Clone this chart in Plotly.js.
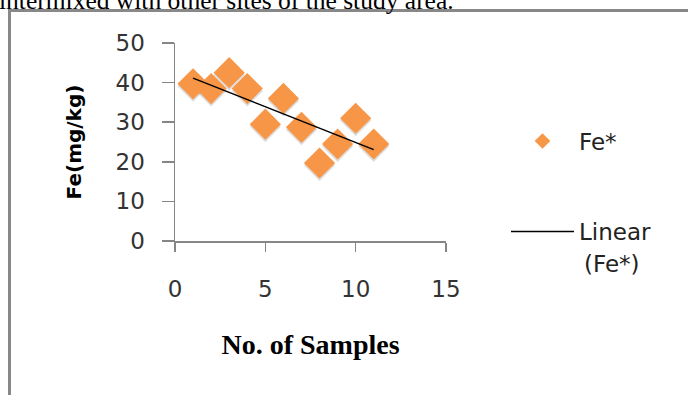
<!DOCTYPE html>
<html>
<head>
<meta charset="utf-8">
<script src="https://cdn.plot.ly/plotly-3.0.1.min.js"></script>
<style>html,body{margin:0;padding:0;background:#fff;}#chart{width:688px;height:395px;}</style>
</head>
<body>
<div id="chart"></div>
<script>
// Data
const samples = [1, 2, 3, 4, 5, 6, 7, 8, 9, 10, 11];
const feValues = [39.7, 38.5, 42.5, 38.5, 29.5, 36.0, 28.7, 19.7, 24.5, 31.0, 24.5];
const xTicks = [0, 5, 10, 15];
const yTicks = [0, 10, 20, 30, 40, 50];

// Least-squares trendline (Linear (Fe*)) computed from the data
const n = samples.length;
const mx = samples.reduce((a, b) => a + b, 0) / n;
const my = feValues.reduce((a, b) => a + b, 0) / n;
let sxy = 0, sxx = 0;
for (let i = 0; i < n; i++) { sxy += (samples[i] - mx) * (feValues[i] - my); sxx += (samples[i] - mx) ** 2; }
const slope = sxy / sxx, intercept = my - slope * mx;
const trendX = [samples[0], samples[n - 1]];
const trendY = trendX.map(x => intercept + slope * x);

// pixel -> paper helpers (plot area 175..446 x, 43..241 y)
const L = 175, R = 446, T = 43, B = 241;
const px = p => (p - L) / (R - L);
const py = p => (B - p) / (B - T);

const traces = [
  { x: samples, y: feValues.map(v => v - 0.6), mode: 'markers', type: 'scatter', showlegend: false, hoverinfo: 'skip',
    marker: { symbol: 'diamond', size: 24, color: 'rgba(120,120,120,0.25)', line: { width: 0 } } },
  { x: samples, y: feValues, mode: 'markers', type: 'scatter', name: 'Fe*', legend: 'legend',
    marker: { symbol: 'diamond', size: 24, color: '#F79646', line: { width: 0 } } },
  { x: trendX, y: trendY, mode: 'lines', type: 'scatter', name: 'Linear', legend: 'legend2',
    line: { color: '#000000', width: 1.5 } }
];

const tickFont = { family: 'DejaVu Sans', size: 23, color: '#333333' };
const legFont = { family: 'DejaVu Sans', size: 23, color: '#222222' };

const layout = {
  width: 688, height: 395,
  margin: { l: L, r: 688 - R, t: T, b: 395 - B, pad: 0 },
  paper_bgcolor: '#ffffff', plot_bgcolor: '#ffffff',
  showlegend: true,
  xaxis: {
    range: [0, 15], tickvals: xTicks, ticktext: xTicks.map(String),
    showgrid: false, zeroline: false, showline: true, linecolor: '#868686', linewidth: 1.5,
    ticks: 'outside', ticklen: 9, tickwidth: 1.5, tickcolor: '#868686',
    tickfont: tickFont, ticklabelstandoff: 18,
    title: { text: '<b>No. of Samples</b>', font: { family: 'Liberation Serif', size: 28, color: '#000' }, standoff: 33 }
  },
  yaxis: {
    range: [0, 50], tickvals: yTicks, ticktext: yTicks.map(String),
    showgrid: false, zeroline: false, showline: true, linecolor: '#868686', linewidth: 1.5,
    ticks: 'outside', ticklen: 12, tickwidth: 1.5, tickcolor: '#868686',
    tickfont: tickFont, ticklabelstandoff: 12,
    title: { text: '<b>Fe(mg/kg)</b>', font: { family: 'DejaVu Sans', size: 20, color: '#000' }, standoff: 28 }
  },
  legend: {
    x: px(506), y: py(141), xanchor: 'left', yanchor: 'middle', xref: 'paper', yref: 'paper',
    itemwidth: 63, itemsizing: 'constant', font: legFont,
    bgcolor: 'rgba(0,0,0,0)', borderwidth: 0
  },
  legend2: {
    x: px(506), y: py(210), xanchor: 'left', yanchor: 'top', xref: 'paper', yref: 'paper',
    itemwidth: 63, valign: 'top', font: legFont,
    bgcolor: 'rgba(0,0,0,0)', borderwidth: 0
  },
  shapes: [
    { type: 'rect', xref: 'paper', yref: 'paper', layer: 'below',
      x0: px(9.5), x1: px(900), y0: py(900), y1: py(10.5),
      line: { color: '#888888', width: 3 }, fillcolor: 'rgba(0,0,0,0)' }
  ],
  annotations: [
    { text: 'intermixed with other sites of the study area.', xref: 'paper', yref: 'paper',
      x: px(-3), y: py(0), xanchor: 'left', yanchor: 'middle', showarrow: false,
      font: { family: 'Liberation Serif', size: 25.5, color: '#000' } },
    { text: '(Fe*)', xref: 'paper', yref: 'paper', x: px(582), y: py(264), xanchor: 'left', yanchor: 'middle',
      showarrow: false, font: legFont }
  ]
};

Plotly.newPlot('chart', traces, layout, { displayModeBar: false, staticPlot: true });
</script>
</body>
</html>
